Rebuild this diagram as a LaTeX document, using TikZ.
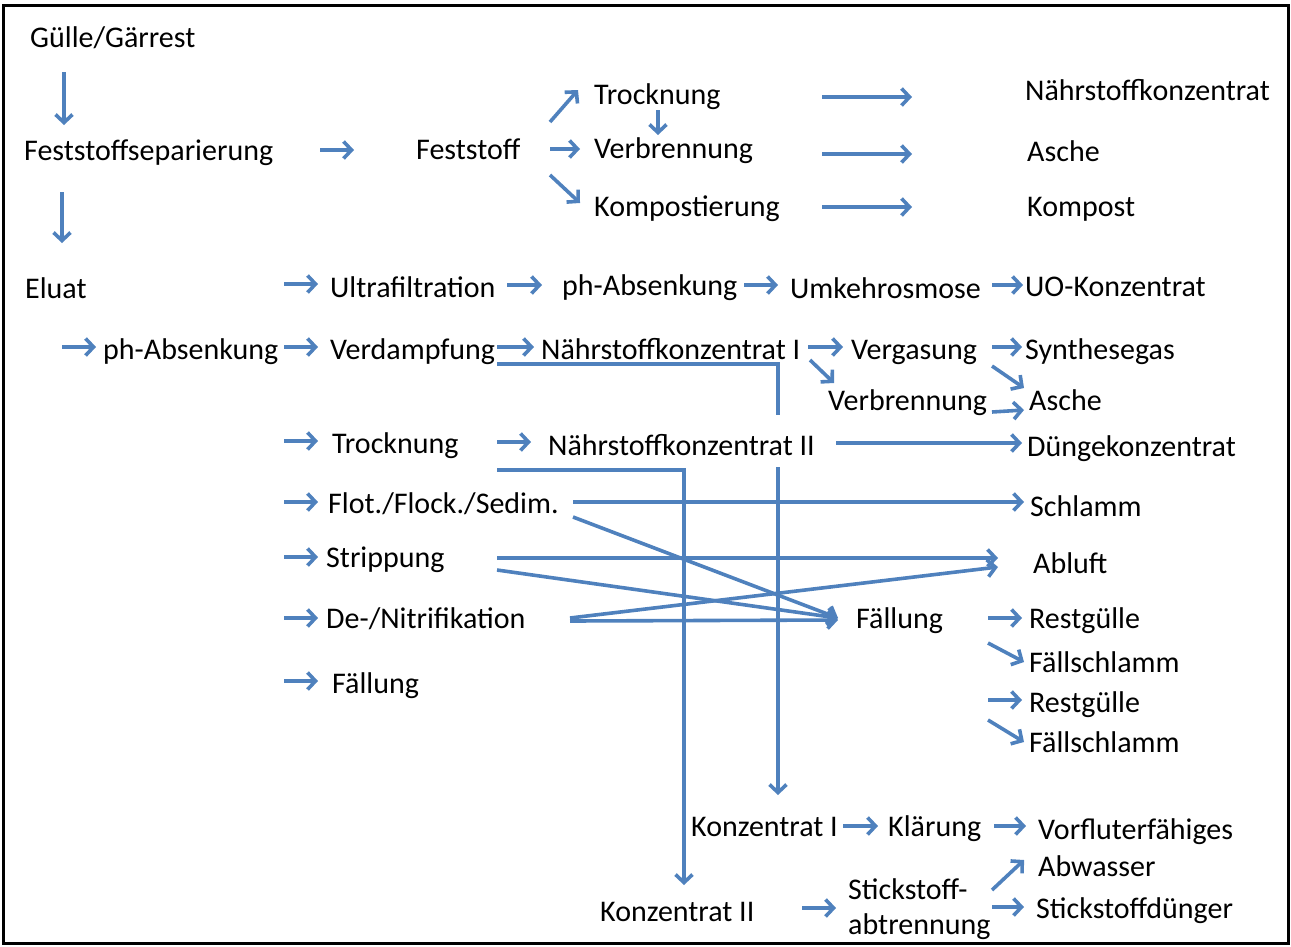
\documentclass[tikz,border=0pt]{standalone}
\usepackage{fontspec}
\setmainfont{Carlito}
\usetikzlibrary{arrows.meta,calc}
\definecolor{flowblue}{RGB}{79,129,189}
\begin{document}
\begin{tikzpicture}[x=1pt,y=-1pt,
  lbl/.style={inner sep=0pt, anchor=west, text height=24pt, text depth=4pt, font=\fontsize{30}{36}\selectfont},
  lbl2/.style={inner sep=0pt, anchor=west, align=left},
  arr/.style={draw=flowblue, line width=3.6pt, -{Straight Barb[length=8pt,width=17pt,line width=3.6pt]}},
  ln/.style={draw=flowblue, line width=3.6pt}]
\useasboundingbox (0,0) rectangle (1291,946);
\draw[line width=3pt] (3,5) rectangle (1288,943);
% nodes
\node[lbl] (gulle) at (30,37) {Gülle/Gärrest};
\node[lbl] (sep) at (24,150) {Feststoffseparierung};
\node[lbl] (fest) at (416,149) {Feststoff};
\node[lbl] (troc1) at (594,94) {Trocknung};
\node[lbl] (verb1) at (594,148) {Verbrennung};
\node[lbl] (komp1) at (594,206) {Kompostierung};
\node[lbl] (nk) at (1025,90) {Nährstoffkonzentrat};
\node[lbl] (asche1) at (1027,151) {Asche};
\node[lbl] (kompost) at (1027,206) {Kompost};
\node[lbl] (eluat) at (25,288) {Eluat};
\node[lbl] (ultra) at (330,287) {Ultrafiltration};
\node[lbl] (ph1) at (562,285) {ph-Absenkung};
\node[lbl] (umk) at (790,288) {Umkehrosmose};
\node[lbl] (uo) at (1025,286) {UO-Konzentrat};
\node[lbl] (ph2) at (103,349) {ph-Absenkung};
\node[lbl] (verd) at (330,349) {Verdampfung};
\node[lbl] (nk1) at (541,349) {Nährstoffkonzentrat I};
\node[lbl] (verg) at (851,349) {Vergasung};
\node[lbl] (syn) at (1025,349) {Synthesegas};
\node[lbl] (verb2) at (828,400) {Verbrennung};
\node[lbl] (asche2) at (1029,400) {Asche};
\node[lbl] (troc2) at (332,443) {Trocknung};
\node[lbl] (nk2) at (548,445) {Nährstoffkonzentrat II};
\node[lbl] (dunge) at (1027,446) {Düngekonzentrat};
\node[lbl] (flot) at (328,503) {Flot./Flock./Sedim.};
\node[lbl] (schlamm) at (1030,506) {Schlamm};
\node[lbl] (strip) at (326,557) {Strippung};
\node[lbl] (abluft) at (1033,563) {Abluft};
\node[lbl] (denit) at (326,618) {De-/Nitrifikation};
\node[lbl] (fall1) at (856,618) {Fällung};
\node[lbl] (rest1) at (1029,618) {Restgülle};
\node[lbl] (fs1) at (1029,662) {Fällschlamm};
\node[lbl] (fall2) at (332,683) {Fällung};
\node[lbl] (rest2) at (1029,702) {Restgülle};
\node[lbl] (fs2) at (1029,742) {Fällschlamm};
\node[lbl] (konz1) at (691,826) {Konzentrat I};
\node[lbl] (klar) at (888,826) {Klärung};
\node[lbl2, font=\fontsize{30}{37}\selectfont] (vorf) at (1038,848) {Vorfluterfähiges\\Abwasser};
\node[lbl2, font=\fontsize{30}{35}\selectfont] (stick) at (848,909) {Stickstoff-\\abtrennung};
\node[lbl] (konz2) at (600,911) {Konzentrat II};
\node[lbl] (sdung) at (1036,908) {Stickstoffdünger};
% connectors
\draw[arr] ($(gulle.west)+(34,35)$) -- ($(sep.west)+(40,-25)$);
\draw[arr] ($(sep.west)+(38,42)$) -- ($(eluat.west)+(37,-45)$);
\draw[arr] ($(sep.west)+(296,0)$) -- ($(fest.west)+(-62,1)$);
\draw[arr] ($(fest.west)+(134,-27)$) -- ($(troc1.west)+(-16,-4)$);
\draw[arr] ($(fest.west)+(134,0)$) -- ($(verb1.west)+(-14,1)$);
\draw[arr] ($(fest.west)+(134,26)$) -- ($(komp1.west)+(-14,-3)$);
\draw[arr] ($(troc1.west)+(64,16)$) -- ($(verb1.west)+(64,-13)$);
\draw[arr] ($(troc1.west)+(228,3)$) -- ($(nk.west)+(-113,7)$);
\draw[arr] ($(verb1.west)+(228,6)$) -- ($(asche1.west)+(-115,3)$);
\draw[arr] ($(komp1.west)+(228,1)$) -- ($(kompost.west)+(-115,1)$);
\draw[arr] ($(eluat.west)+(259,-4)$) -- ($(ultra.west)+(-12,-3)$);
\draw[arr] ($(ultra.west)+(177,-2)$) -- ($(ph1.west)+(-20,0)$);
\draw[arr] ($(ph1.west)+(182,0)$) -- ($(umk.west)+(-12,-3)$);
\draw[arr] ($(umk.west)+(202,-3)$) -- ($(uo.west)+(-2,-1)$);
\draw[arr] ($(eluat.west)+(37,59)$) -- ($(ph2.west)+(-7,-2)$);
\draw[arr] ($(ph2.west)+(181,-2)$) -- ($(verd.west)+(-12,-2)$);
\draw[arr] ($(verd.west)+(167,-2)$) -- ($(nk1.west)+(-7,-2)$);
\draw[arr] ($(nk1.west)+(267,-2)$) -- ($(verg.west)+(-8,-2)$);
\draw[arr] ($(nk1.west)+(269,11)$) -- ($(verb2.west)+(6,-17)$);
\draw[arr] ($(verg.west)+(141,-2)$) -- ($(syn.west)+(-3,-2)$);
\draw[arr] ($(verg.west)+(141,17)$) -- ($(asche2.west)+(-5,-12)$);
\draw[arr] ($(verb2.west)+(164,12)$) -- ($(asche2.west)+(-5,10)$);
\draw[arr] ($(eluat.west)+(259,153)$) -- ($(troc2.west)+(-14,-2)$);
\draw[arr] ($(troc2.west)+(165,-1)$) -- ($(nk2.west)+(-17,-3)$);
\draw[arr] ($(nk2.west)+(288,-2)$) -- ($(dunge.west)+(-5,-3)$);
\draw[arr] ($(eluat.west)+(259,214)$) -- ($(flot.west)+(-10,-1)$);
\draw[arr] ($(flot.west)+(245,-1)$) -- ($(schlamm.west)+(-6,-4)$);
\draw[arr] ($(flot.west)+(245,14)$) -- ($(fall1.west)+(-18,0)$);
\draw[arr] ($(eluat.west)+(259,269)$) -- ($(strip.west)+(-8,0)$);
\draw[arr] ($(strip.west)+(171,1)$) -- ($(abluft.west)+(-35,-5)$);
\draw[arr] ($(strip.west)+(171,13)$) -- ($(fall1.west)+(-18,0)$);
\draw[arr] ($(eluat.west)+(259,330)$) -- ($(denit.west)+(-8,0)$);
\draw[arr] ($(denit.west)+(244,0)$) -- ($(abluft.west)+(-35,4)$);
\draw[arr] ($(denit.west)+(244,3)$) -- ($(fall1.west)+(-18,2)$);
\draw[arr] ($(eluat.west)+(259,393)$) -- ($(fall2.west)+(-14,-2)$);
\draw[arr] ($(fall1.west)+(132,0)$) -- ($(rest1.west)+(-7,0)$);
\draw[arr] ($(fall1.west)+(132,25)$) -- ($(fs1.west)+(-5,0)$);
\draw[arr] ($(fall2.west)+(656,17)$) -- ($(rest2.west)+(-7,-2)$);
\draw[arr] ($(fall2.west)+(656,37)$) -- ($(fs2.west)+(-5,0)$);
\draw[ln] ($(verd.west)+(167,15)$) -| ($(konz1.west)+(87,-411)$);
\draw[arr] ($(konz1.west)+(87,-359)$) -- ($(konz1.west)+(87,-31)$);
\draw[arr] ($(troc2.west)+(165,27)$) -| ($(konz2.west)+(84,-26)$);
\draw[arr] ($(konz1.west)+(152,0)$) -- ($(klar.west)+(-10,0)$);
\draw[arr] ($(klar.west)+(106,0)$) -- ($(vorf.west)+(-12,-22)$);
\draw[arr] ($(konz2.west)+(202,-3)$) -- ($(stick.west)+(-12,-1)$);
\draw[arr] ($(stick.west)+(144,-19)$) -- ($(vorf.west)+(-14,12)$);
\draw[arr] ($(stick.west)+(144,-2)$) -- ($(sdung.west)+(-12,-1)$);
\end{tikzpicture}
\end{document}
